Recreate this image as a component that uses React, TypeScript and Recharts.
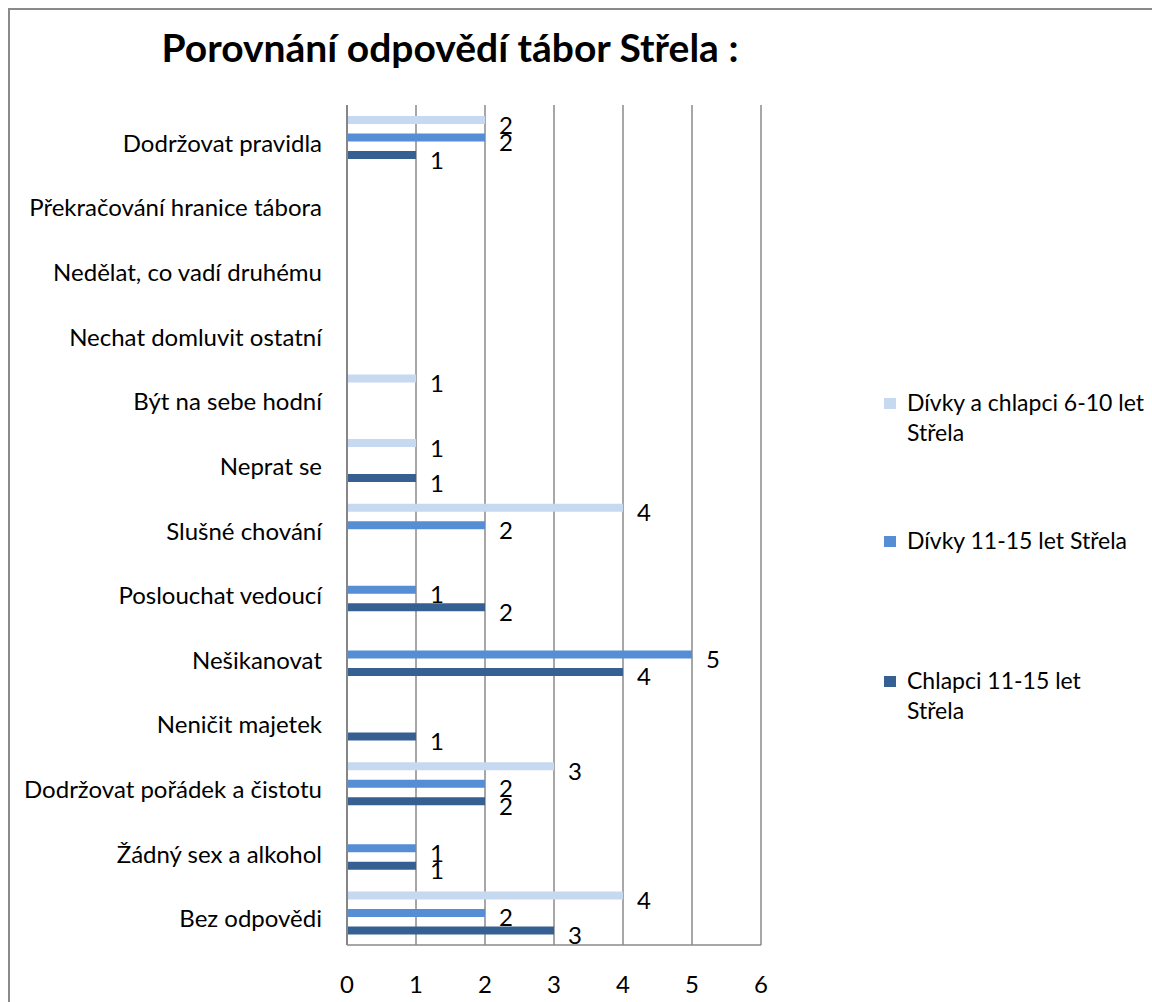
import React from "react";
import { BarChart, Bar, XAxis, YAxis, CartesianGrid, LabelList } from "recharts";

const categories = [
  "Dodržovat pravidla",
  "Překračování hranice tábora",
  "Nedělat, co vadí druhému",
  "Nechat domluvit ostatní",
  "Být na sebe hodní",
  "Neprat se",
  "Slušné chování",
  "Poslouchat vedoucí",
  "Nešikanovat",
  "Neničit majetek",
  "Dodržovat pořádek a čistotu",
  "Žádný sex a alkohol",
  "Bez odpovědi",
];

const kids610: (number | null)[] = [2, null, null, null, 1, 1, 4, null, null, null, 3, null, 4];
const girls1115: (number | null)[] = [2, null, null, null, null, null, 2, 1, 5, null, 2, 1, 2];
const boys1115: (number | null)[] = [1, null, null, null, null, 1, null, 2, 4, 1, 2, 1, 3];

const seriesNames = ["Dívky a chlapci 6-10 let Střela", "Dívky 11-15 let Střela", "Chlapci 11-15 let Střela"];
const legendLabels = ["Dívky a chlapci 6-10 let\nStřela", "Dívky 11-15 let Střela", "Chlapci 11-15 let\nStřela"];
const seriesKeys = ["a", "b", "c"];
const seriesColors = ["#C6D9F1", "#558ED5", "#376092"];
const xTicks = [0, 1, 2, 3, 4, 5, 6];
const title = "Porovnání odpovědí tábor Střela :";

const data = categories.map((name, i) => ({
  name,
  a: kids610[i],
  b: girls1115[i],
  c: boys1115[i],
}));

const FONT = "Lato, 'Open Sans', sans-serif";
const FS = 24;

const YTick = (props: any) => {
  const { x, y, payload } = props;
  return (
    <text x={x} y={y + 5} textAnchor="end" dominantBaseline="central" fontFamily={FONT} fontSize={FS} fill="#000">
      {payload.value}
    </text>
  );
};

const XTick = (props: any) => {
  const { x, y, payload } = props;
  return (
    <text x={x} y={y} textAnchor="middle" dominantBaseline="central" fontFamily={FONT} fontSize={FS} fill="#000">
      {payload.value}
    </text>
  );
};

const ValueLabel = (props: any) => {
  const { x, y, width, height, value } = props;
  if (value === null || value === undefined || value === 0) return null;
  return (
    <text
      x={x + width + 21}
      y={y + height / 2 + 4}
      textAnchor="middle"
      dominantBaseline="central"
      fontFamily={FONT}
      fontSize={FS}
      fill="#000"
    >
      {value}
    </text>
  );
};

export default function App() {
  return (
    <div
      style={{
        position: "absolute",
        left: 8,
        top: 8,
        width: 1144,
        height: 994,
        boxSizing: "border-box",
        borderLeft: "2px solid #8a8a8a",
        borderTop: "2px solid #8a8a8a",
        background: "#fff",
        fontFamily: FONT,
        overflow: "hidden",
      }}
    >
      <div
        style={{
          position: "absolute",
          left: 0,
          width: 880,
          top: 15,
          textAlign: "center",
          fontSize: 39,
          fontWeight: 700,
          color: "#000",
          lineHeight: "44px",
        }}
      >
        {title}
      </div>
      <div style={{ position: "absolute", left: 0, top: 0 }}>
        <BarChart
          width={1142}
          height={992}
          data={data}
          layout="vertical"
          margin={{ top: 95, right: 391, bottom: 27, left: 0 }}
          barSize={8}
          barGap={9.5}
        >
          <CartesianGrid horizontal={false} vertical={true} stroke="#8a8a8a" strokeWidth={1.5} />
          <XAxis
            type="number"
            domain={[0, 6]}
            ticks={xTicks}
            tickLine={false}
            tickSize={0}
            tickMargin={38}
            axisLine={{ stroke: "#8a8a8a", strokeWidth: 1.5 }}
            tick={<XTick />}
            interval={0}
          />
          <YAxis
            type="category"
            dataKey="name"
            width={337}
            tickLine={false}
            tickSize={0}
            tickMargin={25}
            axisLine={{ stroke: "#868686", strokeWidth: 2 }}
            tick={<YTick />}
            interval={0}
          />
          {seriesKeys.map((k, i) => (
            <Bar key={k} dataKey={k} name={seriesNames[i]} fill={seriesColors[i]} isAnimationActive={false}>
              <LabelList dataKey={k} content={<ValueLabel />} />
            </Bar>
          ))}
        </BarChart>
      </div>
      <div style={{ position: "absolute", left: 0, top: 0 }}>
        {legendLabels.map((n, i) => {
          const tops = [383, 521, 661];
          return (
            <div
              key={n}
              style={{
                position: "absolute",
                left: 874,
                top: tops[i],
                width: 262,
                display: "flex",
                alignItems: "flex-start",
              }}
            >
              <div style={{ width: 12, height: 11, background: seriesColors[i], marginTop: 5, flex: "none" }} />
              <div
                style={{ marginLeft: 11, fontSize: 23, lineHeight: "30px", marginTop: -6, whiteSpace: "pre-line" }}
              >
                {n}
              </div>
            </div>
          );
        })}
      </div>
    </div>
  );
}
